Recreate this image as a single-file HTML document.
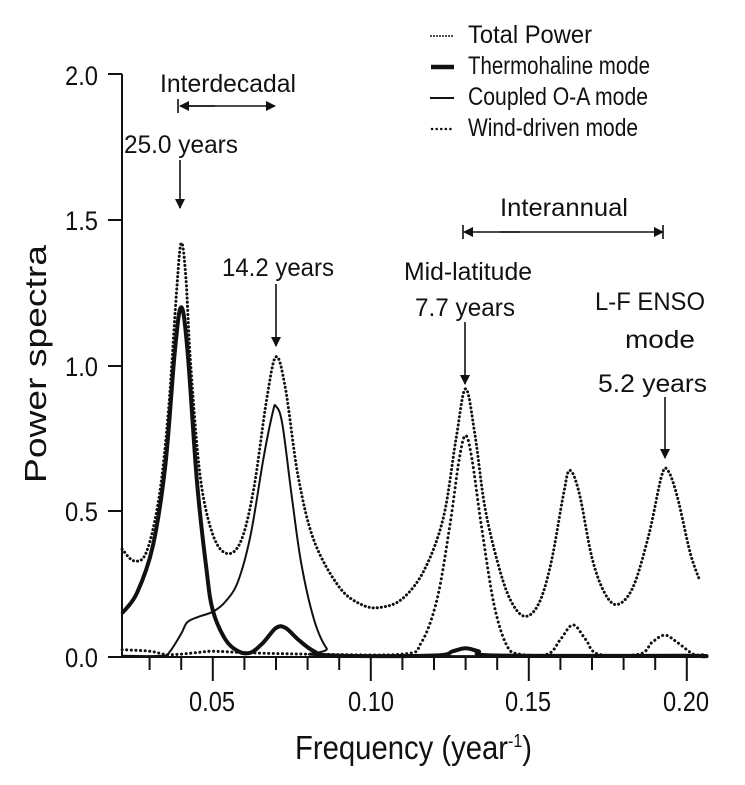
<!DOCTYPE html><html><head><style>body{margin:0;background:#fff}svg{display:block}text{font-family:"Liberation Sans",sans-serif;fill:#111}</style></head><body>
<svg id="s" width="745" height="785" viewBox="0 0 745 785" xmlns="http://www.w3.org/2000/svg">
<defs><marker id="ah" markerWidth="10" markerHeight="12" refX="9" refY="6" orient="auto" markerUnits="userSpaceOnUse"><path d="M0,1 L10,6 L0,11 Z" fill="#111"/></marker></defs>
<g stroke="#111" stroke-width="2" fill="none">
<line x1="122" y1="74" x2="122" y2="657"/><line x1="108" y1="657" x2="708" y2="657"/>
<line x1="108" y1="74" x2="122" y2="74"/><line x1="108" y1="220" x2="122" y2="220"/><line x1="108" y1="366" x2="122" y2="366"/><line x1="108" y1="511" x2="122" y2="511"/>
</g>
<g id="xt" stroke="#111" stroke-width="2"></g>
<g font-size="27" lengthAdjust="spacingAndGlyphs">
<text x="65" y="85" textLength="33" lengthAdjust="spacingAndGlyphs">2.0</text>
<text x="65" y="230" textLength="33" lengthAdjust="spacingAndGlyphs">1.5</text>
<text x="65" y="376" textLength="33" lengthAdjust="spacingAndGlyphs">1.0</text>
<text x="65" y="521" textLength="33" lengthAdjust="spacingAndGlyphs">0.5</text>
<text x="65" y="667" textLength="33" lengthAdjust="spacingAndGlyphs">0.0</text>
</g>
<g font-size="28">
<text x="189" y="711" textLength="46" lengthAdjust="spacingAndGlyphs">0.05</text>
<text x="348" y="711" textLength="46" lengthAdjust="spacingAndGlyphs">0.10</text>
<text x="505" y="711" textLength="46" lengthAdjust="spacingAndGlyphs">0.15</text>
<text x="663" y="711" textLength="46" lengthAdjust="spacingAndGlyphs">0.20</text>
</g>
<text x="295" y="759" font-size="33" textLength="237" lengthAdjust="spacingAndGlyphs">Frequency (year<tspan font-size="18" dy="-12">-1</tspan><tspan dy="12">)</tspan></text>
<text transform="translate(46,364) rotate(-90)" x="-119" font-size="31" textLength="238" lengthAdjust="spacingAndGlyphs">Power spectra</text>
<g id="curves" fill="none" stroke="#111" stroke-linejoin="round"></g>
<g stroke="#111" stroke-width="1.6" fill="none">
<line x1="178" y1="99" x2="178" y2="113"/><line x1="180" y1="106" x2="275" y2="106" marker-end="url(#ah)"/><line x1="215" y1="106" x2="180" y2="106" marker-end="url(#ah)"/>
<line x1="180" y1="160" x2="180" y2="208" marker-end="url(#ah)"/>
<line x1="276" y1="284" x2="276" y2="346" marker-end="url(#ah)"/>
<line x1="465" y1="322" x2="465" y2="384" marker-end="url(#ah)"/>
<line x1="463" y1="225" x2="463" y2="239"/><line x1="663" y1="225" x2="663" y2="239"/>
<line x1="500" y1="232" x2="663" y2="232" marker-end="url(#ah)"/><line x1="520" y1="232" x2="464" y2="232" marker-end="url(#ah)"/>
<line x1="665" y1="397" x2="665" y2="458" marker-end="url(#ah)"/>
</g>
<g font-size="25">
<text x="160" y="92" textLength="136" lengthAdjust="spacingAndGlyphs">Interdecadal</text>
<text x="124" y="153" textLength="114" lengthAdjust="spacingAndGlyphs">25.0 years</text>
<text x="222" y="276" textLength="112" lengthAdjust="spacingAndGlyphs">14.2 years</text>
<text x="404" y="280" textLength="128" lengthAdjust="spacingAndGlyphs">Mid-latitude</text>
<text x="415" y="316" textLength="100" lengthAdjust="spacingAndGlyphs">7.7 years</text>
<text x="500" y="216" textLength="128" lengthAdjust="spacingAndGlyphs">Interannual</text>
<text x="595" y="310" textLength="110" lengthAdjust="spacingAndGlyphs">L-F ENSO</text>
<text x="625" y="348" textLength="70" lengthAdjust="spacingAndGlyphs">mode</text>
<text x="598" y="392" textLength="109" lengthAdjust="spacingAndGlyphs">5.2 years</text>
<text x="468" y="43" textLength="124" lengthAdjust="spacingAndGlyphs">Total Power</text>
<text x="468" y="74" textLength="182" lengthAdjust="spacingAndGlyphs">Thermohaline mode</text>
<text x="468" y="105" textLength="180" lengthAdjust="spacingAndGlyphs">Coupled O-A mode</text>
<text x="468" y="136" textLength="170" lengthAdjust="spacingAndGlyphs">Wind-driven mode</text>
</g>
<g stroke="#111" fill="none">
<line x1="430" y1="36" x2="454" y2="36" stroke-width="1.5" stroke-dasharray="2 1"/>
<line x1="431" y1="67" x2="454" y2="67" stroke-width="4.5"/>
<line x1="430" y1="98" x2="454" y2="98" stroke-width="2"/>
<line x1="432" y1="129" x2="454" y2="129" stroke-width="2.5" stroke-dasharray="0.1 4.5" stroke-linecap="round"/>
</g>
</svg>
<script>
var NS="http://www.w3.org/2000/svg";
function X(f){return 118+(f-0.02)*3160}function Y(v){return 657-v*291.5}
var xt=document.getElementById('xt');
for(var i=3;i<=20;i++){var f=i/100,x=X(f);if(x<123)continue;var maj=(i%5==0);var l=document.createElementNS(NS,'line');l.setAttribute('x1',x);l.setAttribute('x2',x);l.setAttribute('y1',657);l.setAttribute('y2',maj?681:670);xt.appendChild(l);}
function path(pts){var p=pts.map(function(a){return [X(a[0]),Y(a[1])]});var d="M"+p[0][0].toFixed(1)+","+p[0][1].toFixed(1);
for(var i=0;i<p.length-1;i++){var p0=p[i-1]||p[i],p1=p[i],p2=p[i+1],p3=p[i+2]||p2;
d+="C"+(p1[0]+(p2[0]-p0[0])/6).toFixed(1)+","+(p1[1]+(p2[1]-p0[1])/6).toFixed(1)+" "+(p2[0]-(p3[0]-p1[0])/6).toFixed(1)+","+(p2[1]-(p3[1]-p1[1])/6).toFixed(1)+" "+p2[0].toFixed(1)+","+p2[1].toFixed(1);}return d;}
function add(pts,w,dash){var e=document.createElementNS(NS,'path');e.setAttribute('d',path(pts));e.setAttribute('stroke-width',w);if(dash){e.setAttribute('stroke-dasharray',dash);e.setAttribute('stroke-linecap','round');}document.getElementById('curves').appendChild(e);}
var total=[[0.0213,0.37],[0.025,0.33],[0.029,0.36],[0.033,0.55],[0.036,0.85],[0.0385,1.25],[0.040,1.42],[0.0415,1.3],[0.043,1.0],[0.046,0.62],[0.05,0.42],[0.0545,0.355],[0.059,0.4],[0.063,0.58],[0.067,0.88],[0.07,1.03],[0.073,0.92],[0.077,0.62],[0.082,0.4],[0.09,0.24],[0.097,0.18],[0.103,0.17],[0.11,0.2],[0.117,0.3],[0.123,0.48],[0.127,0.75],[0.13,0.92],[0.133,0.76],[0.136,0.52],[0.14,0.33],[0.144,0.2],[0.1485,0.14],[0.153,0.18],[0.157,0.32],[0.161,0.56],[0.163,0.64],[0.166,0.56],[0.17,0.34],[0.174,0.22],[0.178,0.18],[0.183,0.24],[0.188,0.42],[0.192,0.62],[0.194,0.64],[0.197,0.55],[0.201,0.36],[0.204,0.265]];
add(total,3,"0.1 4");
var thermo=[[0.0213,0.15],[0.026,0.22],[0.031,0.38],[0.035,0.66],[0.038,1.05],[0.040,1.2],[0.042,1.05],[0.045,0.6],[0.048,0.3],[0.05,0.16],[0.054,0.06],[0.058,0.02],[0.062,0.015],[0.066,0.05],[0.07,0.1],[0.073,0.1],[0.077,0.06],[0.082,0.02],[0.088,0.005],[0.12,0.005],[0.126,0.02],[0.13,0.03],[0.134,0.02],[0.14,0.005],[0.2,0.004],[0.205,0.002]];
add(thermo,4);
var coup=[[0.0213,0.004],[0.034,0.004],[0.0365,0.02],[0.04,0.08],[0.042,0.12],[0.046,0.14],[0.05,0.155],[0.054,0.19],[0.058,0.26],[0.062,0.42],[0.066,0.68],[0.069,0.84],[0.07,0.86],[0.072,0.8],[0.075,0.55],[0.078,0.32],[0.082,0.13],[0.086,0.03],[0.09,0.005],[0.205,0.004]];
add(coup,2);
var wind=[[0.0213,0.025],[0.03,0.02],[0.036,0.008],[0.045,0.015],[0.05,0.02],[0.06,0.015],[0.08,0.01],[0.11,0.01],[0.116,0.05],[0.121,0.2],[0.125,0.45],[0.128,0.68],[0.13,0.76],[0.132,0.68],[0.135,0.45],[0.139,0.18],[0.143,0.04],[0.147,0.01],[0.156,0.01],[0.16,0.06],[0.164,0.11],[0.168,0.06],[0.172,0.01],[0.185,0.01],[0.189,0.05],[0.193,0.075],[0.197,0.05],[0.202,0.01],[0.205,0.008]];
add(wind,3,"0.1 4.5");
</script>
</body></html>
